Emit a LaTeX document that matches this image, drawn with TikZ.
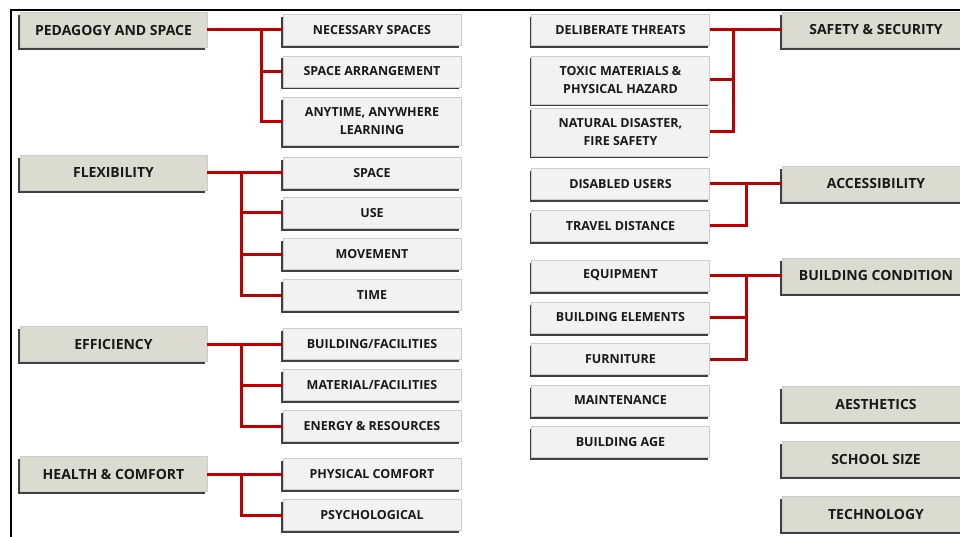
\documentclass[tikz,border=0pt]{standalone}
\usepackage{fontspec}
\setmainfont{Open Sans}
\usepackage{tikz}
\usetikzlibrary{shadows, positioning}

\definecolor{mainfill}{RGB}{220,219,207}
\definecolor{subfill}{RGB}{242,242,242}
\definecolor{linkred}{RGB}{192,0,0}

\tikzset{
  boxshadow/.style={drop shadow={shadow xshift=-2pt, shadow yshift=-2.5pt, opacity=0.75, fill=black}},
  mainbox/.style={draw=black!20, fill=mainfill, minimum width=187pt, minimum height=35pt,
    inner sep=0pt, text=black!90, font=\fontsize{14}{16}\selectfont\bfseries, boxshadow},
  subbox/.style={draw=black!20, fill=subfill, minimum width=178pt, minimum height=31pt,
    inner sep=0pt, align=center, text=black!90, font=\fontsize{12.5}{18}\selectfont\bfseries, boxshadow},
  tallbox/.style={subbox, minimum height=48pt},
  link/.style={draw=linkred, line width=3pt}
}

\begin{document}
\begin{tikzpicture}[x=1pt, y=-1pt]
    \useasboundingbox (0,0) rectangle (960,537);
    \clip (0,0) rectangle (960,537);

    % Frame
    \draw[line width=2pt] (11,540) -- (11,10) -- (962,10);

    % Left column: main boxes
    \node[mainbox] (ped)  at (113.5,30)  {PEDAGOGY AND SPACE};
    \node[mainbox] (flex) at (113.5,173) {FLEXIBILITY};
    \node[mainbox] (eff)  at (113.5,344) {EFFICIENCY};
    \node[mainbox] (hc)   at (113.5,474) {HEALTH \& COMFORT};

    % Left column: sub boxes
    \node[subbox]  (ns)   at (372,30)    {NECESSARY SPACES};
    \node[subbox]  (sa)   at (372,71.5)  {SPACE ARRANGEMENT};
    \node[tallbox] (aa)   at (372,121.5) {ANYTIME, ANYWHERE\\LEARNING};

    \node[subbox]  (sp)   at (372,173)   {SPACE};
    \node[subbox]  (use)  at (372,213)   {USE};
    \node[subbox]  (mov)  at (372,254)   {MOVEMENT};
    \node[subbox]  (tim)  at (372,295)   {TIME};

    \node[subbox]  (bf)   at (372,344)   {BUILDING/FACILITIES};
    \node[subbox]  (mf)   at (372,385)   {MATERIAL/FACILITIES};
    \node[subbox]  (er)   at (372,426)   {ENERGY \& RESOURCES};

    \node[subbox]  (pc)   at (372,474)   {PHYSICAL COMFORT};
    \node[subbox]  (psy)  at (372,515)   {PSYCHOLOGICAL};

    % Right column: sub boxes
    \node[subbox]  (dt)   at (620.5,30)  {DELIBERATE THREATS};
    \node[tallbox] (tox)  at (620.5,80)  {TOXIC MATERIALS \&\\PHYSICAL HAZARD};
    \node[tallbox] (nat)  at (620.5,132) {NATURAL DISASTER,\\FIRE SAFETY};

    \node[subbox]  (du)   at (620.5,184) {DISABLED USERS};
    \node[subbox]  (td)   at (620.5,226) {TRAVEL DISTANCE};

    \node[subbox]  (eq)   at (620.5,275.5) {EQUIPMENT};
    \node[subbox]  (be)   at (620.5,317.5) {BUILDING ELEMENTS};
    \node[subbox]  (fur)  at (620.5,359) {FURNITURE};
    \node[subbox]  (mnt)  at (620.5,400.5) {MAINTENANCE};
    \node[subbox]  (age)  at (620.5,442) {BUILDING AGE};

    % Right column: main boxes
    \node[mainbox, minimum width=188pt] (saf)  at (876,30)  {SAFETY \& SECURITY};
    \node[mainbox, minimum width=188pt] (acc)  at (876,184) {ACCESSIBILITY};
    \node[mainbox, minimum width=188pt] (bc)   at (876,275.5) {BUILDING CONDITION};
    \node[mainbox, minimum width=188pt] (aes)  at (876,404) {AESTHETICS};
    \node[mainbox, minimum width=188pt] (ss)   at (876,459) {SCHOOL SIZE};
    \node[mainbox, minimum width=188pt] (tech) at (876,514) {TECHNOLOGY};

    % Branch points
    \coordinate (pedbr)  at ([xshift=54pt]ped.east);
    \coordinate (flexbr) at ([xshift=34pt]flex.east);
    \coordinate (effbr)  at ([xshift=34pt]eff.east);
    \coordinate (hcbr)   at ([xshift=34pt]hc.east);
    \coordinate (safbr)  at ([xshift=24pt]dt.east);
    \coordinate (accbr)  at ([xshift=37pt]du.east);
    \coordinate (bcbr)   at ([xshift=37pt]eq.east);

    % Links
    \draw[link] (ped.east) -- (ns.west);
    \foreach \s in {sa,aa} \draw[link] (pedbr) |- (\s.west);
    \draw[link] (flex.east) -- (sp.west);
    \foreach \s in {use,mov,tim} \draw[link] (flexbr) |- (\s.west);
    \draw[link] (eff.east) -- (bf.west);
    \foreach \s in {mf,er} \draw[link] (effbr) |- (\s.west);
    \draw[link] (hc.east) -- (pc.west);
    \draw[link] (hcbr) |- (psy.west);

    \draw[link] (dt.east) -- (saf.west);
    \foreach \s in {tox,nat} \draw[link] (safbr) |- (\s.east);
    \draw[link] (du.east) -- (acc.west);
    \draw[link] (accbr) |- (td.east);
    \draw[link] (eq.east) -- (bc.west);
    \foreach \s in {be,fur} \draw[link] (bcbr) |- (\s.east);
\end{tikzpicture}
\end{document}
